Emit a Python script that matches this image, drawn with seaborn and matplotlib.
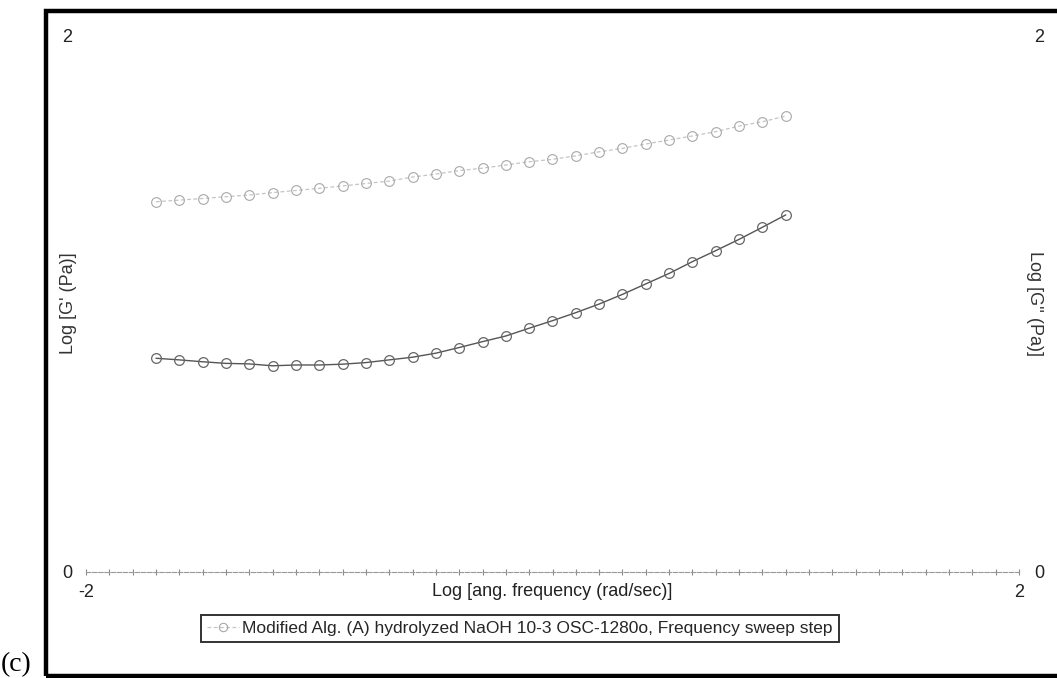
import numpy as np
import pandas as pd
import matplotlib
matplotlib.use("Agg")
import matplotlib.pyplot as plt
from matplotlib.patches import Rectangle
from matplotlib.lines import Line2D
import seaborn as sns

# ---- data ----
log_freq = [-1.7, -1.6, -1.5, -1.4, -1.3, -1.2, -1.1, -1.0, -0.9, -0.8,
            -0.7, -0.6, -0.5, -0.4, -0.3, -0.2, -0.1, 0.0, 0.1, 0.2,
            0.3, 0.4, 0.5, 0.6, 0.7, 0.8, 0.9, 1.0]
log_g_upper = [1.379, 1.385, 1.391, 1.398, 1.404, 1.413, 1.421, 1.429, 1.438, 1.447,
               1.456, 1.471, 1.482, 1.495, 1.504, 1.516, 1.528, 1.537, 1.550, 1.565,
               1.578, 1.594, 1.609, 1.624, 1.640, 1.661, 1.677, 1.698]
log_g_lower = [0.796, 0.790, 0.783, 0.777, 0.775, 0.768, 0.771, 0.771, 0.774, 0.780,
               0.790, 0.800, 0.815, 0.836, 0.858, 0.879, 0.908, 0.936, 0.966, 0.998,
               1.034, 1.073, 1.112, 1.156, 1.197, 1.239, 1.284, 1.330]
x_ticks = [-2, 2]
y_ticks = [0, 2]
x_label = "Log [ang. frequency (rad/sec)]"
y_label_left = "Log [G' (Pa)]"
y_label_right = "Log [G'' (Pa)]"
legend_label = "Modified Alg. (A) hydrolyzed NaOH 10-3 OSC-1280o, Frequency sweep step"

sns.set_style("white")
plt.rcParams['font.family'] = ['Liberation Sans', 'DejaVu Sans']
plt.rcParams['axes.unicode_minus'] = False

df_up = pd.DataFrame({"x": log_freq, "y": log_g_upper})
df_lo = pd.DataFrame({"x": log_freq, "y": log_g_lower})

fig = plt.figure(figsize=(10.57, 6.78), dpi=100)
ax = fig.add_axes([86/1057, 1 - 572/678, (1019 - 86)/1057, (572 - 35)/678])

sns.lineplot(data=df_up, x="x", y="y", ax=ax, color="#c4c4c4", linewidth=0.9,
             linestyle=(0, (3, 2)), marker="o", markersize=7,
             markerfacecolor="none", markeredgecolor="#a8a8a8", markeredgewidth=0.8)
sns.lineplot(data=df_lo, x="x", y="y", ax=ax, color="#555555", linewidth=1.0,
             marker="o", markersize=7,
             markerfacecolor="none", markeredgecolor="#666666", markeredgewidth=0.9)

ax.set_xlim(-2, 2)
ax.set_ylim(0, 2)
for s in ["top", "right", "left"]:
    ax.spines[s].set_visible(False)
ax.spines["bottom"].set_color("#999999")
ax.spines["bottom"].set_linewidth(0.8)
ax.spines["bottom"].set_linestyle((0, (4, 1.5)))

ax.set_xticks(x_ticks)
ax.set_xticks(np.arange(-2, 2.001, 0.1), minor=True)
ax.set_yticks(y_ticks)
ax.tick_params(axis="x", which="both", direction="inout", length=5, width=0.8,
               color="#8a8a8a", bottom=True, pad=6, labelsize=13, labelcolor="#222222")
ax.tick_params(axis="y", which="both", length=0, pad=10, labelsize=13, labelcolor="#222222")
ax.set_xlabel(x_label, fontsize=13, color="#222222", labelpad=-13)
ax.set_ylabel(y_label_left, fontsize=13, color="#333333", labelpad=-11)

ax2 = ax.twinx()
ax2.set_ylim(0, 2)
ax2.set_yticks(y_ticks)
for s in ax2.spines.values():
    s.set_visible(False)
ax2.tick_params(axis="y", length=0, pad=11, labelsize=13, labelcolor="#222222")
ax2.set_ylabel(y_label_right, fontsize=13, color="#333333", rotation=270, labelpad=-1)

handle = Line2D([], [], color="#c4c4c4", linewidth=0.9, linestyle=(0, (3, 2)),
                marker="o", markersize=6, markerfacecolor="none",
                markeredgecolor="#a8a8a8", markeredgewidth=0.8)
leg = fig.legend([handle], [legend_label], loc="center",
                 bbox_to_anchor=(520/1057, 1 - 628.5/678), frameon=True,
                 fancybox=False, fontsize=12.5, handlelength=1.8, handletextpad=0.2,
                 borderpad=0.35, borderaxespad=0)
leg.get_frame().set_edgecolor("black")
leg.get_frame().set_linewidth(1.4)

# outer frame and panel letter
fig.patches.append(Rectangle((45.5/1057, 1 - 676/678), 1.2, (676 - 10.5)/678,
                             transform=fig.transFigure, fill=False,
                             edgecolor="black", linewidth=3.2))
fig.text(0.001, 1 - 671/678, "(c)", family=["Liberation Serif", "DejaVu Serif"],
         fontsize=20, ha="left", va="baseline", color="black")

fig.savefig("out.png", dpi=100)
